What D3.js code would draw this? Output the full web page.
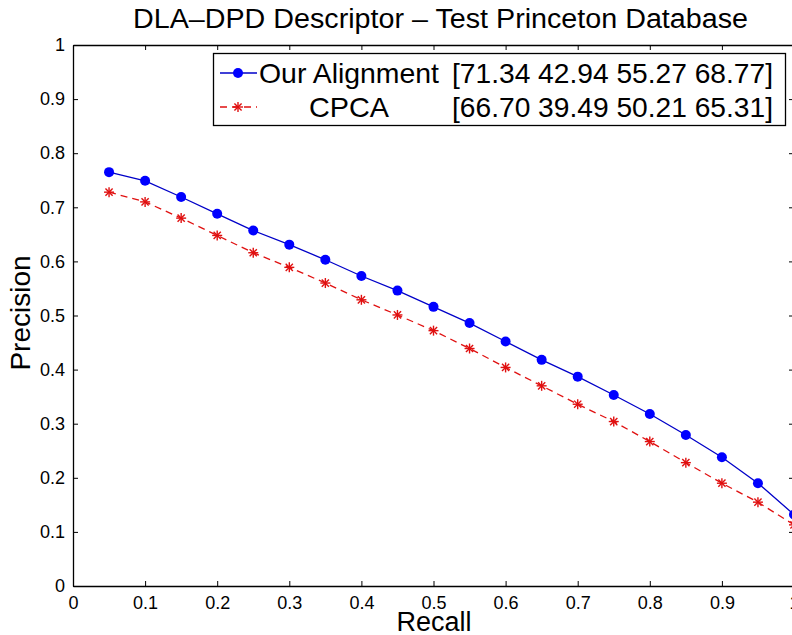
<!DOCTYPE html>
<html lang="en">
<head>
    <meta charset="UTF-8">
    <title>DLA-DPD Descriptor - Test Princeton Database</title>
    <script src="https://d3js.org/d3.v7.min.js"></script>
    <style>
        body {
            margin: 0;
            padding: 0;
            background: #fff;
            font-family: "Liberation Sans", Arial, sans-serif;
        }
        svg text { fill: #000; }
    </style>
</head>
<body>
    <div id="chart"></div>

    <script>
        // Data
        const recall = [0.05, 0.1, 0.15, 0.2, 0.25, 0.3, 0.35, 0.4, 0.45, 0.5,
                        0.55, 0.6, 0.65, 0.7, 0.75, 0.8, 0.85, 0.9, 0.95, 1.0];
        const ourAlignment = [0.765, 0.749, 0.719, 0.688, 0.657, 0.631, 0.603, 0.573, 0.546, 0.516,
                              0.486, 0.452, 0.418, 0.387, 0.353, 0.318, 0.279, 0.238, 0.190, 0.132];
        const cpca = [0.728, 0.710, 0.680, 0.648, 0.616, 0.589, 0.560, 0.529, 0.501, 0.472,
                      0.439, 0.404, 0.370, 0.336, 0.304, 0.267, 0.228, 0.190, 0.155, 0.113];
        const xTicks = [0, 0.1, 0.2, 0.3, 0.4, 0.5, 0.6, 0.7, 0.8, 0.9, 1];
        const yTicks = [0, 0.1, 0.2, 0.3, 0.4, 0.5, 0.6, 0.7, 0.8, 0.9, 1];
        const seriesNames = ['Our Alignment', 'CPCA'];
        const seriesScores = ['[71.34 42.94 55.27 68.77]', '[66.70 39.49 50.21 65.31]'];

        const width = 792, height = 635;
        const margin = { left: 73, top: 45, right: 794, bottom: 586 };
        const font = '"Liberation Sans", Arial, sans-serif';

        const svg = d3.select('#chart')
            .append('svg')
            .attr('width', width)
            .attr('height', height);

        const x = d3.scaleLinear().domain([0, 1]).range([margin.left, margin.right]);
        const y = d3.scaleLinear().domain([0, 1]).range([margin.bottom, margin.top]);

        // axes (MATLAB style: ticks inside, box all round)
        const tickLen = 5;
        svg.append('g')
            .attr('transform', `translate(0,${margin.bottom})`)
            .call(d3.axisBottom(x).tickValues(xTicks).tickSizeInner(-tickLen).tickSizeOuter(0)
                .tickFormat(d3.format('')).tickPadding(10))
            .call(g => g.selectAll('text').attr('font-size', 18).attr('font-family', font));

        svg.append('g')
            .attr('transform', `translate(0,${margin.top})`)
            .call(d3.axisTop(x).tickValues(xTicks).tickSizeInner(-tickLen).tickSizeOuter(0).tickFormat(''));

        svg.append('g')
            .attr('transform', `translate(${margin.left},0)`)
            .call(d3.axisLeft(y).tickValues(yTicks).tickSizeInner(-tickLen).tickSizeOuter(0)
                .tickFormat(d3.format('')).tickPadding(8))
            .call(g => g.selectAll('text').attr('font-size', 18).attr('font-family', font));

        svg.append('g')
            .attr('transform', `translate(${margin.right},0)`)
            .call(d3.axisRight(y).tickValues(yTicks).tickSizeInner(-tickLen).tickSizeOuter(0).tickFormat(''));

        svg.selectAll('.domain').attr('stroke', '#000').attr('stroke-width', 1.3);
        svg.selectAll('.tick line').attr('stroke', '#000');

        // titles
        svg.append('text')
            .attr('x', 133)
            .attr('y', 28)
            .attr('font-size', 27)
            .attr('textLength', 615)
            .attr('lengthAdjust', 'spacingAndGlyphs')
            .text('DLA\u2013DPD Descriptor \u2013 Test Princeton Database');

        svg.append('text')
            .attr('x', 434)
            .attr('y', 631)
            .attr('text-anchor', 'middle')
            .attr('font-size', 27)
            .text('Recall');

        svg.append('text')
            .attr('transform', 'translate(30,313) rotate(-90)')
            .attr('text-anchor', 'middle')
            .attr('font-size', 28)
            .text('Precision');

        // series
        const plot = svg.append('g');

        const line = d3.line()
            .x(d => x(d[0]))
            .y(d => y(d[1]));

        const blueData = recall.map((r, i) => [r, ourAlignment[i]]);
        const redData = recall.map((r, i) => [r, cpca[i]]);

        plot.append('path')
            .datum(redData)
            .attr('d', line)
            .attr('fill', 'none')
            .attr('stroke', '#e01010')
            .attr('stroke-width', 1.3)
            .attr('stroke-dasharray', '7,5');

        function star(g, cx, cy, r, color) {
            const a = g.append('g').attr('transform', `translate(${cx},${cy})`)
                .attr('stroke', color).attr('stroke-width', 1.4);
            a.append('line').attr('x1', -r).attr('x2', r).attr('y1', 0).attr('y2', 0);
            a.append('line').attr('x1', 0).attr('x2', 0).attr('y1', -r).attr('y2', r);
            const k = r * 0.72;
            a.append('line').attr('x1', -k).attr('x2', k).attr('y1', -k).attr('y2', k);
            a.append('line').attr('x1', -k).attr('x2', k).attr('y1', k).attr('y2', -k);
        }

        redData.forEach(d => star(plot, x(d[0]), y(d[1]), 5, '#e01010'));

        plot.append('path')
            .datum(blueData)
            .attr('d', line)
            .attr('fill', 'none')
            .attr('stroke', '#0000c8')
            .attr('stroke-width', 1.3);

        plot.selectAll('circle.blue')
            .data(blueData)
            .enter().append('circle')
            .attr('class', 'blue')
            .attr('cx', d => x(d[0]))
            .attr('cy', d => y(d[1]))
            .attr('r', 5)
            .attr('fill', '#0000ff');

        // legend
        const legend = svg.append('g');
        legend.append('rect')
            .attr('x', 213.5).attr('y', 53.5)
            .attr('width', 572).attr('height', 72)
            .attr('fill', '#fff')
            .attr('stroke', '#000')
            .attr('stroke-width', 1.3);

        const rows = [73, 107];
        const nameLen = [180, 80];
        rows.forEach((ry, i) => {
            legend.append('line')
                .attr('x1', 220).attr('x2', 257)
                .attr('y1', ry).attr('y2', ry)
                .attr('stroke', i === 0 ? '#0000c8' : '#e01010')
                .attr('stroke-width', 1.3)
                .attr('stroke-dasharray', i === 0 ? null : '7,5');
            if (i === 0) {
                legend.append('circle').attr('cx', 238).attr('cy', ry).attr('r', 5).attr('fill', '#0000ff');
            } else {
                star(legend, 238, ry, 5, '#e01010');
            }
            legend.append('text')
                .attr('x', 349).attr('y', ry + 10)
                .attr('text-anchor', 'middle')
                .attr('font-size', 28)
                .attr('textLength', nameLen[i])
                .attr('lengthAdjust', 'spacingAndGlyphs')
                .text(seriesNames[i]);
            legend.append('text')
                .attr('x', 452).attr('y', ry + 10)
                .attr('font-size', 28)
                .attr('textLength', 321)
                .attr('lengthAdjust', 'spacingAndGlyphs')
                .text(seriesScores[i]);
        });
    </script>
</body>
</html>
